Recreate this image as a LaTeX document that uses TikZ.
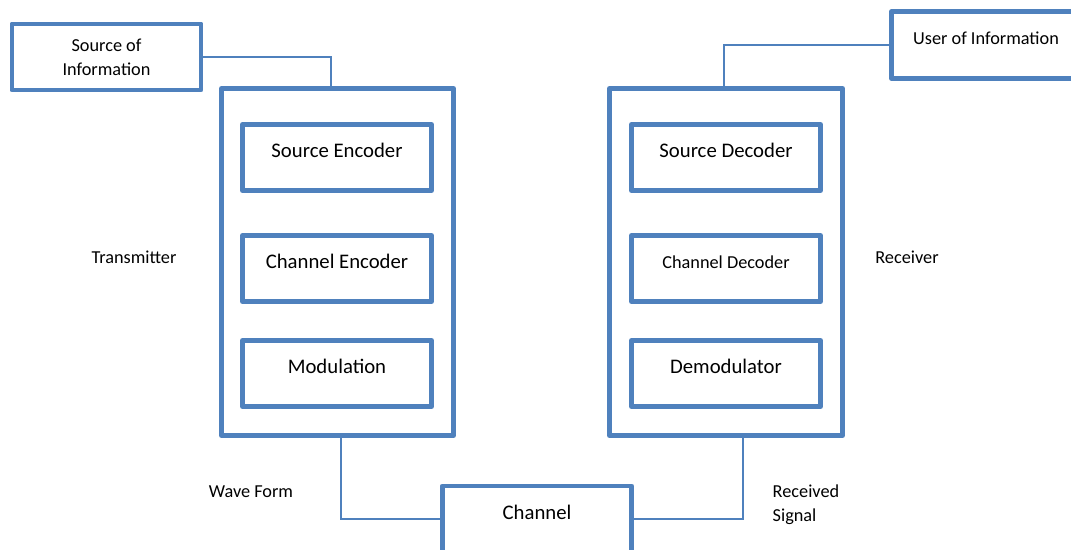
\documentclass[tikz,border=0pt]{standalone}
\usepackage{fontspec}
\setmainfont{Carlito}
\definecolor{boxblue}{HTML}{4F81BD}

\begin{document}
\begin{tikzpicture}[
  blk/.style={draw=boxblue, line width=2.8pt, line join=round, inner sep=0pt,
    minimum width=3.78cm, minimum height=1.32cm},
  mid/.style={text height=1.6ex, text depth=1.6ex},
  big/.style={font=\fontsize{11.8}{14}\selectfont},
  sml/.style={font=\fontsize{10.4}{13.6}\selectfont},
  wire/.style={draw=boxblue, line width=1pt}]
  \useasboundingbox (0,0) rectangle (21.42,-11);
  \begin{scope}[blk]
  \path   (2.13,-1.14) node[blk, sml, align=center] (src) {Source of\\Information};
  \path   (19.72,-0.9) node[blk, sml, mid, minimum width=3.77cm, minimum height=1.34cm] (user) {User of Information};
  \path   (6.75,-5.24) node[blk, minimum width=4.64cm, minimum height=6.94cm] (tx) {};
  \path   (14.52,-5.24) node[blk, minimum width=4.66cm, minimum height=6.94cm] (rx) {};
  \path   (6.74,-3.15) node[blk, big, mid] (senc) {Source Encoder};
  \path   (6.74,-5.37) node[blk, big, mid] (cenc) {Channel Encoder};
  \path   (6.74,-7.47) node[blk, big, mid] (mod) {Modulation};
  \path   (14.52,-3.15) node[blk, big, mid] (sdec) {Source Decoder};
  \path   (14.52,-5.37) node[blk, sml, mid] (cdec) {Channel Decoder};
  \path   (14.52,-7.47) node[blk, big, mid] (demod) {Demodulator};
  \path   (10.74,-10.38) node[blk, big, mid] (chan) {Channel};
  \end{scope}
  \path   (2.68,-5.14) node[sml] (txlbl) {Transmitter};
  \path   (18.14,-5.14) node[sml] (rxlbl) {Receiver};
  \path   (5.02,-9.84) node[sml] (wave) {Wave Form};
  \path   (15.33,-10.1) node[sml, anchor=west, align=left] (recv) {Received\\Signal};
  \begin{scope}[wire]
    \draw (src.east) -| ([xshift=-0.13cm]tx.north);
    \draw (user.west) -| ([xshift=-0.04cm]rx.north);
    \draw ([xshift=0.07cm]tx.south) |- (chan.west);
    \draw (chan.east) -| ([xshift=0.34cm]rx.south);
  \end{scope}
\end{tikzpicture}
\end{document}
